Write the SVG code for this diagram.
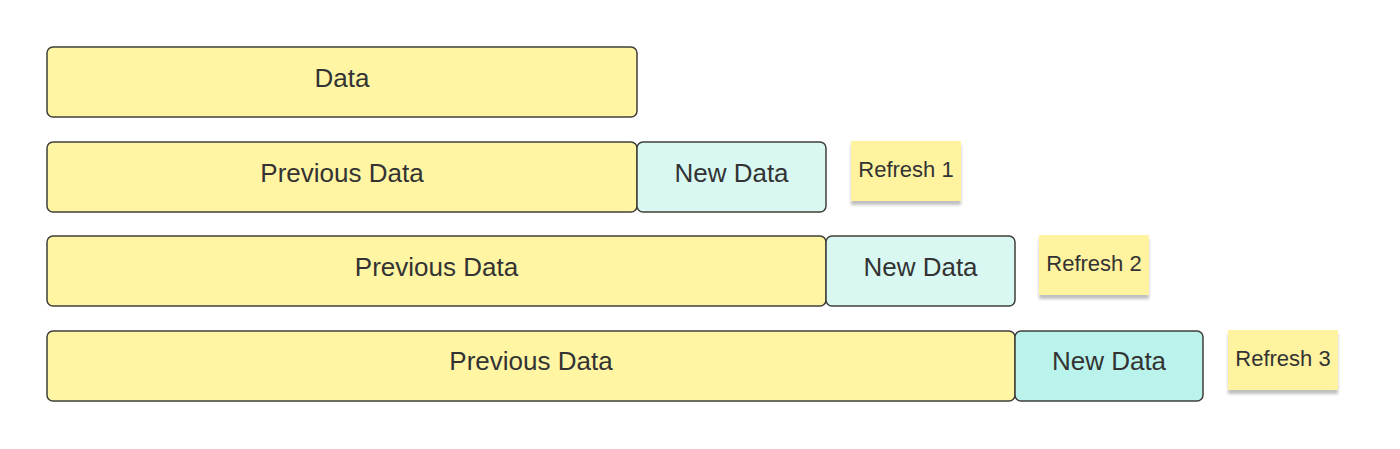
<svg xmlns="http://www.w3.org/2000/svg" width="1400" height="449" viewBox="0 0 1400 449">
<defs>
<filter id="sh" x="-10%" y="-10%" width="120%" height="140%">
<feGaussianBlur in="SourceAlpha" stdDeviation="1.5"/>
<feOffset dx="0" dy="4"/>
<feComponentTransfer><feFuncA type="linear" slope="0.25"/></feComponentTransfer>
<feMerge><feMergeNode/><feMergeNode in="SourceGraphic"/></feMerge>
</filter>
</defs>
<style>
.box{stroke:#3f3f3a;stroke-width:1.5}
.y{fill:#fff5a3}
.c{fill:#d8f8f1}
.c2{fill:#baf3eb}
.t{font-family:"Liberation Sans",Arial,sans-serif;font-size:26px;fill:#333333;text-anchor:middle}
.n{fill:#fff3a0}
.nt{font-family:"Liberation Sans",Arial,sans-serif;font-size:22px;fill:#333333;text-anchor:middle}
</style>
<rect width="1400" height="449" fill="#ffffff"/>
<g id="connectors"></g>
<g id="data"><rect class="box y" x="47" y="47" width="590" height="70" rx="6"/><text class="t" x="342" y="87">Data</text></g>
<g id="prev1"><rect class="box y" x="47" y="142" width="590" height="70" rx="6"/><text class="t" x="342" y="182">Previous Data</text></g>
<g id="new1"><rect class="box c" x="637" y="142" width="189" height="70" rx="6"/><text class="t" x="731.5" y="182">New Data</text></g>
<g id="refresh1"><rect class="n" x="851" y="141" width="110" height="60" filter="url(#sh)"/><text class="nt" x="906" y="177">Refresh 1</text></g>
<g id="prev2"><rect class="box y" x="47" y="236" width="779" height="70" rx="6"/><text class="t" x="436.5" y="276">Previous Data</text></g>
<g id="new2"><rect class="box c" x="826" y="236" width="189" height="70" rx="6"/><text class="t" x="920.5" y="276">New Data</text></g>
<g id="refresh2"><rect class="n" x="1039" y="235" width="110" height="60" filter="url(#sh)"/><text class="nt" x="1094" y="271">Refresh 2</text></g>
<g id="prev3"><rect class="box y" x="47" y="331" width="968" height="70" rx="6"/><text class="t" x="531" y="370">Previous Data</text></g>
<g id="new3"><rect class="box c2" x="1015" y="331" width="188" height="70" rx="6"/><text class="t" x="1109" y="370">New Data</text></g>
<g id="refresh3"><rect class="n" x="1228" y="330" width="110" height="60" filter="url(#sh)"/><text class="nt" x="1283" y="366">Refresh 3</text></g>
</svg>
